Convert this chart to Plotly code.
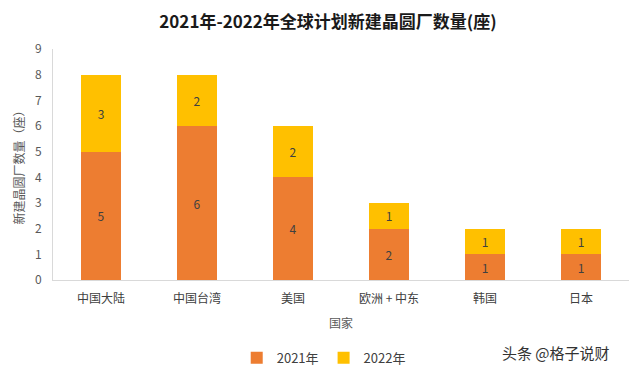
import plotly.graph_objects as go

categories = ["中国大陆", "中国台湾", "美国", "欧洲 + 中东", "韩国", "日本"]
y2021 = [5, 6, 4, 2, 1, 1]
y2022 = [3, 2, 2, 1, 1, 1]
series_names = ["2021年", "2022年"]
yticks = list(range(0, 10))

FONT = "Noto Sans CJK SC"

fig = go.Figure()
fig.add_trace(go.Bar(x=categories, y=y2021, name=series_names[0], marker_color="#ED7D31",
                     text=y2021, textposition="inside", insidetextanchor="middle",
                     textfont=dict(color="#404040", size=12), marker_line_width=0))
fig.add_trace(go.Bar(x=categories, y=y2022, name=series_names[1], marker_color="#FFC000",
                     text=y2022, textposition="inside", insidetextanchor="middle",
                     textfont=dict(color="#404040", size=12), marker_line_width=0))

fig.update_layout(
    barmode="stack",
    bargap=0.59,
    width=640, height=373,
    margin=dict(l=45, r=19, t=41, b=101, autoexpand=False),
    paper_bgcolor="white", plot_bgcolor="white",
    font=dict(family=FONT, color="#595959", size=12),
    title=dict(text="<b>2021年-2022年全球计划新建晶圆厂数量(座)</b>", x=0.5, xanchor="center",
               y=0.963, yanchor="middle", font=dict(size=17, color="#1a1a1a", family=FONT)),
    xaxis=dict(title=dict(text="国家", font=dict(size=12, color="#595959"), standoff=14),
               showline=True, linecolor="#d9d9d9", linewidth=1, ticks="",
               ticklabelstandoff=8,
               tickfont=dict(size=12, color="#404040"), showgrid=False),
    yaxis=dict(title=dict(text="新建晶圆厂数量（座）", font=dict(size=12, color="#595959"), standoff=7),
               range=[0, 9], tickvals=yticks, showline=True, linecolor="#d9d9d9", linewidth=1,
               ticklabelstandoff=8,
               showgrid=False, zeroline=False, ticks="", tickfont=dict(size=12, color="#595959")),
    legend=dict(orientation="h", x=0.47, xanchor="center", yref="container", y=0.062, yanchor="middle",
                font=dict(size=13, color="#404040"), itemwidth=30, traceorder="normal",
                tracegroupgap=0, itemclick=False),
)
fig.add_annotation(text="头条 @格子说财", xref="paper", yref="paper", x=0.97, y=-0.316,
                   xanchor="right", yanchor="middle", showarrow=False,
                   font=dict(size=15, color="#333333", family=FONT))

fig.write_html("out.html")
